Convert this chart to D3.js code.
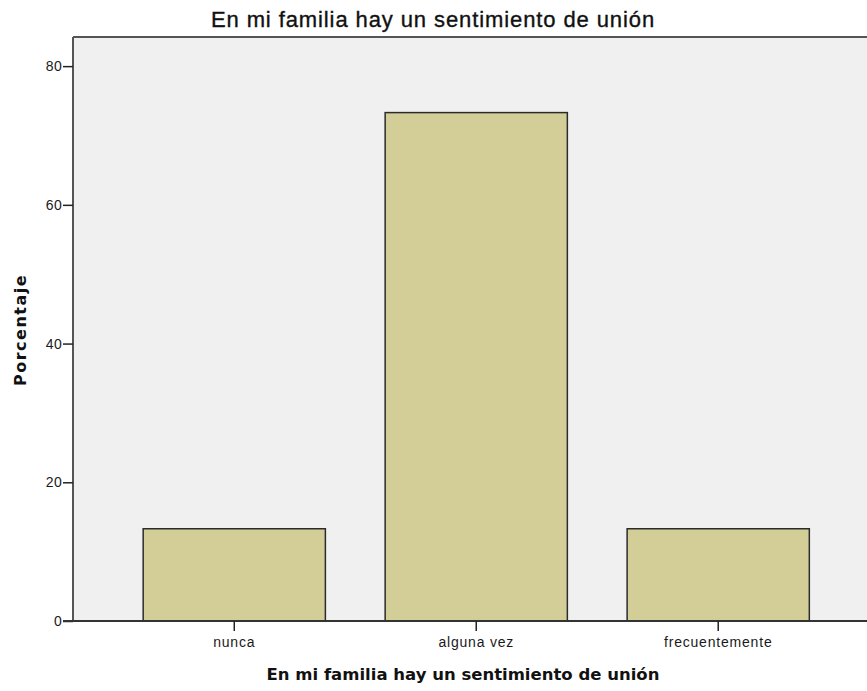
<!DOCTYPE html>
<html><head><meta charset="utf-8">
<script src="https://cdn.jsdelivr.net/npm/d3@7"></script>
<style>html,body{margin:0;padding:0;background:#fff;overflow:hidden}</style>
</head><body>
<script>
const categories = ["nunca", "alguna vez", "frecuentemente"];
const values = [13.3, 73.3, 13.3];
const yTicks = [0, 20, 40, 60, 80];
const titleText = "En mi familia hay un sentimiento de unión";
const xTitle = "En mi familia hay un sentimiento de unión";
const yTitle = "Porcentaje";

(function () {
const W = 867, H = 691;
const svg = d3.select("body").append("svg").attr("width", W).attr("height", H);

const pLeft = 73, pTop = 37, pBottom = 621, rightExt = 879.5;
const x = d3.scaleBand().domain(categories).range([pLeft, rightExt]).paddingInner(0.247).paddingOuter(0.29);
const y = d3.scaleLinear().domain([0, 84.2]).range([pBottom, pTop]);

svg.append("rect").attr("x", pLeft).attr("y", pTop).attr("width", W - pLeft).attr("height", pBottom - pTop).attr("fill", "#f0f0f0");

svg.append("g").selectAll("rect").data(values).join("rect")
  .attr("x", (d, i) => x(categories[i]))
  .attr("y", d => y(d))
  .attr("width", x.bandwidth())
  .attr("height", d => y(0) - y(d))
  .attr("fill", "#d3ce97")
  .attr("stroke", "#2b2b2b")
  .attr("stroke-width", 1.5);

svg.append("line").attr("x1", pLeft).attr("x2", W).attr("y1", pTop).attr("y2", pTop).attr("stroke", "#555").attr("stroke-width", 2);

const tickFont = "Liberation Sans, Arial, sans-serif";
const yAxis = d3.axisLeft(y).tickValues(yTicks).tickSize(10).tickPadding(1).tickFormat(d3.format("d"));
const gy = svg.append("g").attr("transform", `translate(${pLeft},0)`).call(yAxis);
gy.select(".domain").attr("stroke", "#555").attr("stroke-width", 2).attr("d", `M0,${pTop}V${pBottom}`);
gy.selectAll(".tick line").attr("stroke", "#222").attr("stroke-width", 1.5);
gy.selectAll(".tick text").attr("font-family", tickFont).attr("font-size", 14).attr("letter-spacing", "0.3px").attr("fill", "#1a1a1a");

const xAxis = d3.axisBottom(x).tickSize(10).tickPadding(6);
const gx = svg.append("g").attr("transform", `translate(0,${pBottom})`).call(xAxis);
gx.select(".domain").attr("stroke", "#333").attr("stroke-width", 2).attr("d", `M${pLeft - 10},0H${W}`);
gx.selectAll(".tick line").attr("stroke", "#222").attr("stroke-width", 1.5);
gx.selectAll(".tick text").attr("font-family", tickFont).attr("font-size", 14).attr("letter-spacing", "0.8px").attr("fill", "#1a1a1a");

svg.append("text").attr("x", 433).attr("y", 27).attr("text-anchor", "middle")
  .attr("font-family", "Liberation Sans, Arial, sans-serif").attr("font-size", 22).attr("letter-spacing", "0.9px")
  .attr("fill", "#111").attr("stroke", "#111").attr("stroke-width", 0.35).text(titleText);

svg.append("text").attr("x", 463).attr("y", 680).attr("text-anchor", "middle")
  .attr("font-family", "DejaVu Sans, sans-serif").attr("font-weight", "bold").attr("font-size", 16.5).attr("fill", "#111").text(xTitle);

svg.append("text").attr("transform", "translate(26,330) rotate(-90)").attr("text-anchor", "middle")
  .attr("font-family", "DejaVu Sans, sans-serif").attr("font-weight", "bold").attr("font-size", 16).attr("letter-spacing", "1.5px").attr("fill", "#111").text(yTitle);
})();
</script>
</body></html>
